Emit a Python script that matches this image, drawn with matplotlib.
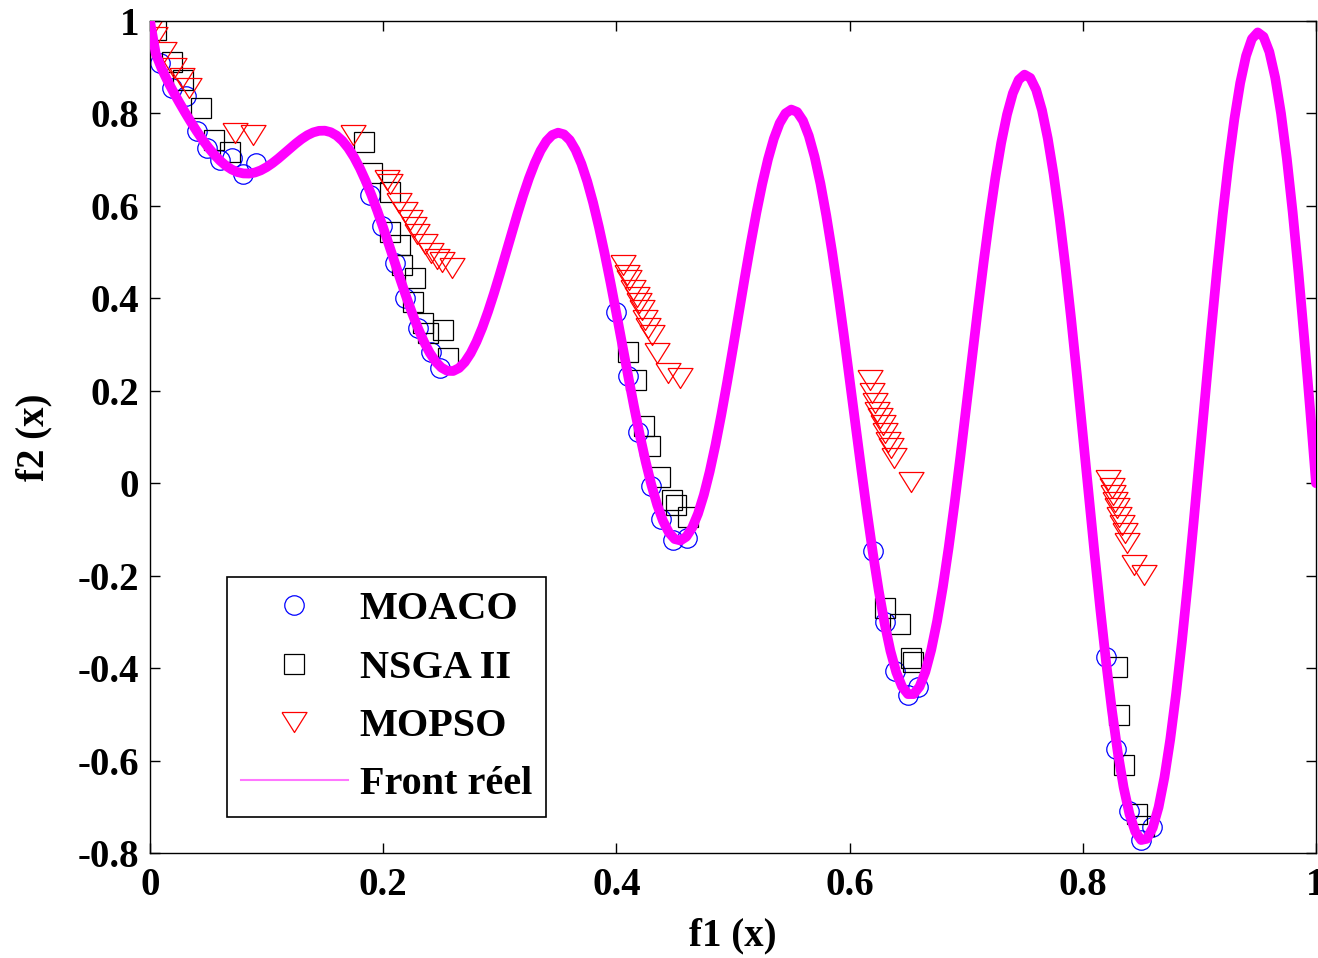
import numpy as np
import matplotlib
matplotlib.use('Agg')
import matplotlib.pyplot as plt
from matplotlib.lines import Line2D

plt.rcParams['font.family'] = ['Liberation Serif', 'DejaVu Serif']
plt.rcParams['font.weight'] = 'bold'

# true Pareto front, sampled every 0.005 in f1
front_f1 = np.linspace(0, 1, 201)
front_f2 = [
    1.0, .9285, .8969, .8707, .8468, .8242, .8025, .7817, .7620, .7434,
    .7264, .7112, .6980, .6871, .6788, .6731, .6702, .6699, .6722, .6769,
    .6838, .6924, .7023, .7131, .7241, .7348, .7446, .7529, .7590, .7624,
    .7627, .7594, .7522, .7408, .7252, .7054, .6815, .6539, .6228, .5889,
    .5528, .5152, .4768, .4387, .4017, .3666, .3343, .3058, .2818, .2630,
    .2500, .2431, .2428, .2491, .2620, .2811, .3062, .3367, .3719, .4108,
    .4523, .4954, .5390, .5818, .6224, .6597, .6925, .7197, .7403, .7534,
    .7584, .7548, .7424, .7210, .6910, .6528, .6070, .5543, .4960, .4333,
    .3675, .3003, .2330, .1674, .1050, .0476, -.0036, -.0471, -.0818, -.1066,
    -.1208, -.1239, -.1157, -.0962, -.0658, -.0251, .0251, .0834, .1486, .2190,
    .2929, .3684, .4435, .5162, .5846, .6466, .7008, .7453, .7788, .8001,
    .8084, .8032, .7843, .7517, .7061, .6483, .5793, .5007, .4142, .3217,
    .2254, .1276, .0305, -.0634, -.1518, -.2325, -.3034, -.3627, -.4087, -.4402,
    -.4562, -.4562, -.4401, -.4080, -.3605, -.2989, -.2243, -.1386, -.0439, .0576,
    .1633, .2707, .3768, .4790, .5747, .6612, .7362, .7976, .8436, .8727,
    .8840, .8768, .8510, .8070, .7454, .6677, .5753, .4704, .3553, .2327,
    .1056, -.0231, -.1503, -.2728, -.3875, -.4917, -.5825, -.6578, -.7154, -.7538,
    -.7720, -.7692, -.7453, -.7008, -.6365, -.5541, -.4554, -.3425, -.2184, -.0860,
    .0513, .1902, .3273, .4588, .5816, .6923, .7880, .8661, .9245, .9613,
    .9753, .9660, .9333, .8775, .7998, .7020, .5861, .4547, .3109, .1581,
    0.0,
]

# MOACO
moaco_f1 = [.0086, .0189, .0309, .0403, .0489, .060, .070, .0798, .0909,
            .1887, .199, .2101, .2187, .2298, .2410, .2487,
            .3997, .410, .4185, .4297, .4383, .4485, .4605,
            .620, .6304, .6389, .650, .6587,
            .8199, .8285, .8396, .850, .8593]
moaco_f2 = [.909, .855, .838, .762, .725, .699, .704, .669, .693,
            .6235, .5565, .4764, .4007, .3358, .2839, .2493,
            .3704, .232, .1108, -.006, -.0775, -.1229, -.1186,
            -.146, -.300, -.406, -.458, -.440,
            -.376, -.575, -.709, -.772, -.744]

# NSGA II
nsga_f1 = [.0051, .0189, .0283, .0437, .0549, .0686,
           .1835, .1904, .2058, .2058, .2144, .2161, .2273, .2256, .2341, .2513, .2384, .2556,
           .410, .4168, .4237, .4288, .4374, .4477, .4511, .4614,
           .6304, .6432, .6527, .6544,
           .8293, .831, .8353, .8465, .8525]
nsga_f2 = [.9805, .9113, .8723, .8118, .7425, .7166,
           .7382, .6711, .630, .5435, .5154, .4721, .444, .392, .3466, .3315, .325, .2709,
           .2838, .2233, .1238, .0805, .0134, -.0364, -.0472, -.0731,
           -.270, -.3046, -.378, -.387,
           -.3977, -.5015, -.6097, -.7157, -.7417]

# MOPSO
mopso_f1 = [.0009, .0043, .012, .0206, .0274, .0334, .0729, .0883,
            .1741, .2033, .2058, .2135, .2187, .223, .2264, .229, .2358, .241, .2461, .2504, .259,
            .4057, .4091, .4108, .4142, .4177, .4194, .422, .4245, .4271, .4305, .4348, .4443, .4545,
            .6175, .6192, .6218, .6235, .6261, .6286, .6304, .633, .6355, .6381, .6527,
            .8216, .825, .8259, .8276, .8293, .831, .8336, .8362, .8379, .8439, .8525]
mopso_f2 = [.9849, .9654, .9329, .8983, .8767, .855, .7577, .7534,
            .7534, .656, .6473, .6062, .5868, .5695, .5543, .5392, .5175, .498, .485, .4786, .4656,
            .4721, .4505, .4396, .418, .4029, .3899, .3747, .3531, .3358, .3206, .2817, .2384, .2276,
            .2233, .1952, .1735, .154, .141, .1259, .1086, .0891, .0762, .0545, .0026,
            .0069, -.0104, -.0255, -.0407, -.0537, -.0731, -.0904, -.1077, -.1294, -.177, -.1986]

y_ticks = [1, 0.8, 0.6, 0.4, 0.2, 0, -0.2, -0.4, -0.6, -0.8]
y_labels = ['1', '0.8', '0.6', '0.4', '0.2', '0', '-0.2', '-0.4', '-0.6', '-0.8']
x_ticks = [0, 0.2, 0.4, 0.6, 0.8, 1]
x_labels = ['0', '0.2', '0.4', '0.6', '0.8', '1']

fig = plt.figure(figsize=(13.18, 9.58), dpi=100)
ax = fig.add_axes([150 / 1318, 105 / 958, 1166 / 1318, 832 / 958])

# wide, flat down-pointing triangle
tri = [(-1, 0.8), (1, 0.8), (0, -0.8), (-1, 0.8)]

ax.plot(moaco_f1, moaco_f2, 'o', ms=14, mfc='none', mec='#0000ff', mew=0.9, zorder=2)
ax.plot(nsga_f1, nsga_f2, 's', ms=14, mfc='none', mec='black', mew=0.9, zorder=2)
ax.plot(mopso_f1, mopso_f2, linestyle='none', marker=tri, ms=18, mfc='none',
        mec='#ff0000', mew=0.9, zorder=2)
ax.plot(front_f1, front_f2, '-', color='#ff00ff', lw=7, solid_joinstyle='round',
        solid_capstyle='round', zorder=3)

ax.set_xlim(0, 1)
ax.set_ylim(-0.8, 1)
ax.set_xticks(x_ticks)
ax.set_xticklabels(x_labels)
ax.set_yticks(y_ticks)
ax.set_yticklabels(y_labels)
ax.tick_params(direction='in', length=7, width=1, labelsize=28,
               top=True, right=True)
ax.tick_params(axis='x', pad=10)
ax.tick_params(axis='y', pad=8)
for s in ax.spines.values():
    s.set_linewidth(1)

ax.set_xlabel('f1 (x)', fontsize=28, fontweight='bold', labelpad=10)
ax.set_ylabel('f2 (x)', fontsize=28, fontweight='bold', labelpad=18)

handles = [
    Line2D([], [], linestyle='none', marker='o', ms=14, mfc='none', mec='#0000ff', mew=0.9),
    Line2D([], [], linestyle='none', marker='s', ms=14, mfc='none', mec='black', mew=0.9),
    Line2D([], [], linestyle='none', marker=tri, ms=18, mfc='none', mec='#ff0000', mew=0.9),
    Line2D([], [], color='#ff77ff', lw=1.5),
]
labels = ['MOACO', 'NSGA II', 'MOPSO', 'Front réel']
leg = ax.legend(handles, labels, loc='lower left', bbox_to_anchor=(0.066, 0.0433),
                borderaxespad=0, fontsize=29, fancybox=False, framealpha=1,
                edgecolor='black', handlelength=2.65, handletextpad=0.3,
                labelspacing=0.52, borderpad=0.35, numpoints=1)
leg.get_frame().set_linewidth(1.2)
for t in leg.get_texts():
    t.set_fontweight('bold')

fig.savefig('out.png', dpi=100)
